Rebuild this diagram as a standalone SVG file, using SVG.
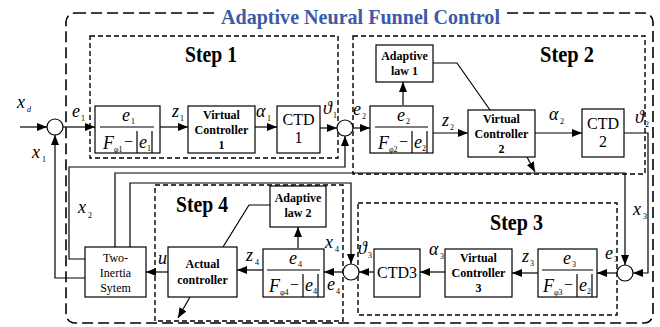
<svg xmlns="http://www.w3.org/2000/svg" width="660" height="327" viewBox="0 0 660 327">
  <style>
    .box{fill:#fff;stroke:#000;stroke-width:1.2}
    .ln{fill:none;stroke:#000;stroke-width:1.2}
    .arr{marker-end:url(#ah)}
    .outer{fill:none;stroke:#000;stroke-width:1.6;stroke-dasharray:11 5}
    .stepbox{fill:none;stroke:#000;stroke-width:1.4;stroke-dasharray:5 3}
    .sum{fill:#fff;stroke:#000;stroke-width:1.2}
    .it{font-family:"Liberation Serif","DejaVu Serif",serif;font-style:italic;font-size:18px}
    .sb{font-family:"Liberation Serif","DejaVu Serif",serif;font-size:8px}
    .bt{font-family:"Liberation Serif",serif;font-weight:bold;font-size:12px;text-anchor:middle}
    .rt{font-family:"Liberation Serif",serif;font-size:12px;text-anchor:middle}
    .ctd{font-family:"Liberation Serif",serif;font-size:16px;text-anchor:middle}
    .step{font-family:"Liberation Serif",serif;font-weight:bold;font-size:23px}
    .title{font-family:"Liberation Serif",serif;font-weight:bold;font-size:21px;fill:#3d5aa8}
    .op{font-family:"Liberation Serif",serif;font-size:16px}
  </style>
  <defs>
    <marker id="ah" viewBox="0 0 10 8" refX="10" refY="4" markerWidth="10" markerHeight="8" markerUnits="userSpaceOnUse" orient="auto">
      <path d="M0,0 L10,4 L0,8 z" fill="#000"/>
    </marker>
  </defs>

  <!-- frames -->
  <g id="frames">
    <rect class="outer" x="66" y="13" width="587" height="310" rx="9"/>
    <!-- title sits on the frame edge, with a white backing -->
    <rect x="218" y="4" width="286" height="24" fill="#fff"/>
    <text class="title" x="221" y="24" textLength="279" lengthAdjust="spacingAndGlyphs">Adaptive Neural Funnel Control</text>
    <rect class="stepbox" x="90" y="36" width="248" height="122"/>
    <text class="step" x="185" y="62" textLength="52" lengthAdjust="spacingAndGlyphs">Step 1</text>
    <rect class="stepbox" x="353" y="36" width="292" height="138"/>
    <text class="step" x="540" y="62" textLength="54" lengthAdjust="spacingAndGlyphs">Step 2</text>
    <rect class="stepbox" x="358" y="203" width="259" height="112"/>
    <text class="step" x="490" y="230" textLength="53" lengthAdjust="spacingAndGlyphs">Step 3</text>
    <rect class="stepbox" x="155" y="185" width="188" height="136"/>
    <text class="step" x="176" y="212" textLength="52" lengthAdjust="spacingAndGlyphs">Step 4</text>
  </g>

  <!-- connectors -->
  <g id="connectors">
    <line class="ln arr" x1="20" y1="127" x2="47" y2="127"/>
    <line class="ln arr" x1="63" y1="127" x2="95" y2="127"/>
    <line class="ln arr" x1="160" y1="127" x2="188" y2="127"/>
    <line class="ln arr" x1="255" y1="127" x2="277" y2="127"/>
    <line class="ln arr" x1="320" y1="128" x2="337" y2="128"/>
    <line class="ln arr" x1="353" y1="128" x2="370" y2="128"/>
    <line class="ln arr" x1="403" y1="105" x2="403" y2="82"/>
    <polyline class="ln" points="433,63 457,63 490,110"/>
    <line class="ln arr" x1="433" y1="133" x2="468" y2="133"/>
    <line class="ln arr" x1="535" y1="133" x2="582" y2="133"/>
    <polyline class="ln arr" points="624,133 648,133 648,273 633,273"/>
    <line class="ln arr" x1="527" y1="157" x2="535" y2="172"/>
    <polyline class="ln arr" points="115,247 115,173 625,173 625,265"/>
    <polyline class="ln arr" points="130,247 130,183 351,183 351,264"/>
    <polyline class="ln arr" points="85,259 69,259 69,167 345,167 345,136"/>
    <polyline class="ln arr" points="85,278 55,278 55,135"/>
    <line class="ln arr" x1="617" y1="273" x2="597" y2="273"/>
    <line class="ln arr" x1="538" y1="273" x2="512" y2="273"/>
    <line class="ln arr" x1="445" y1="272" x2="420" y2="272"/>
    <line class="ln arr" x1="374" y1="272" x2="359" y2="272"/>
    <line class="ln arr" x1="343" y1="272" x2="324" y2="272"/>
    <line class="ln arr" x1="298" y1="248" x2="298" y2="227"/>
    <polyline class="ln" points="270,205 249,205 223,247"/>
    <line class="ln arr" x1="263" y1="270" x2="237" y2="270"/>
    <line class="ln arr" x1="168" y1="272" x2="146" y2="272"/>
    <line class="ln arr" x1="190" y1="297" x2="178" y2="318"/>
  </g>

  <!-- summing junctions -->
  <g id="sum1"><circle class="sum" cx="55" cy="127" r="8"/></g>
  <g id="sum2"><circle class="sum" cx="345" cy="128" r="8"/></g>
  <g id="sum3"><circle class="sum" cx="625" cy="273" r="8"/></g>
  <g id="sum4"><circle class="sum" cx="351" cy="272" r="8"/></g>

  <!-- funnel error transforms -->
  <g id="funnel1" transform="translate(95,106)">
    <rect class="box" x="0" y="0" width="65" height="47"/>
    <text class="it" x="27" y="15">e</text><text class="sb" x="36" y="18">1</text>
    <line class="ln" x1="5" y1="21" x2="59" y2="21"/>
    <text class="it" x="8" y="43">F</text><text class="sb" x="19" y="46">φ1</text>
    <text class="op" x="29" y="41">−</text>
    <line class="ln" x1="42" y1="25" x2="42" y2="47"/>
    <text class="it" x="44" y="42">e</text><text class="sb" x="52" y="45">1</text>
    <line class="ln" x1="57" y1="25" x2="57" y2="47"/>
  </g>
  <g id="funnel2" transform="translate(370,106)">
    <rect class="box" x="0" y="0" width="63" height="47"/>
    <text class="it" x="27" y="15">e</text><text class="sb" x="36" y="18">2</text>
    <line class="ln" x1="5" y1="21" x2="58" y2="21"/>
    <text class="it" x="8" y="43">F</text><text class="sb" x="19" y="46">φ2</text>
    <text class="op" x="29" y="41">−</text>
    <line class="ln" x1="42" y1="25" x2="42" y2="47"/>
    <text class="it" x="44" y="42">e</text><text class="sb" x="52" y="45">2</text>
    <line class="ln" x1="57" y1="25" x2="57" y2="47"/>
  </g>
  <g id="funnel3" transform="translate(538,249)">
    <rect class="box" x="0" y="0" width="59" height="48"/>
    <text class="it" x="25" y="15">e</text><text class="sb" x="34" y="18">3</text>
    <line class="ln" x1="4" y1="21" x2="55" y2="21"/>
    <text class="it" x="5" y="43">F</text><text class="sb" x="16" y="46">φ3</text>
    <text class="op" x="26" y="41">−</text>
    <line class="ln" x1="39" y1="25" x2="39" y2="48"/>
    <text class="it" x="41" y="42">e</text><text class="sb" x="49" y="45">2</text>
    <line class="ln" x1="54" y1="25" x2="54" y2="48"/>
  </g>
  <g id="funnel4" transform="translate(263,249)">
    <rect class="box" x="0" y="0" width="61" height="48"/>
    <text class="it" x="26" y="15">e</text><text class="sb" x="35" y="18">4</text>
    <line class="ln" x1="4" y1="21" x2="57" y2="21"/>
    <text class="it" x="6" y="43">F</text><text class="sb" x="17" y="46">φ4</text>
    <text class="op" x="27" y="41">−</text>
    <line class="ln" x1="40" y1="25" x2="40" y2="48"/>
    <text class="it" x="42" y="42">e</text><text class="sb" x="50" y="45">4</text>
    <line class="ln" x1="55" y1="25" x2="55" y2="48"/>
  </g>

  <!-- controllers and filters -->
  <g id="vc1">
    <rect class="box" x="188" y="106" width="67" height="47"/>
    <text class="bt" x="221.5" y="119">Virtual</text>
    <text class="bt" x="221.5" y="134">Controller</text>
    <text class="bt" x="221.5" y="149">1</text>
  </g>
  <g id="ctd1">
    <rect class="box" x="277" y="106" width="43" height="47"/>
    <text class="ctd" x="298.5" y="125">CTD</text>
    <text class="ctd" x="298.5" y="143">1</text>
  </g>
  <g id="adaptive1">
    <rect class="box" x="376" y="45" width="57" height="37"/>
    <text class="bt" x="404.5" y="60">Adaptive</text>
    <text class="bt" x="404.5" y="75">law 1</text>
  </g>
  <g id="vc2">
    <rect class="box" x="468" y="110" width="67" height="47"/>
    <text class="bt" x="501.5" y="123">Virtual</text>
    <text class="bt" x="501.5" y="138">Controller</text>
    <text class="bt" x="501.5" y="153">2</text>
  </g>
  <g id="ctd2">
    <rect class="box" x="582" y="109" width="42" height="48"/>
    <text class="ctd" x="603" y="129">CTD</text>
    <text class="ctd" x="603" y="147">2</text>
  </g>
  <g id="vc3">
    <rect class="box" x="445" y="249" width="67" height="48"/>
    <text class="bt" x="478.5" y="262">Virtual</text>
    <text class="bt" x="478.5" y="277">Controller</text>
    <text class="bt" x="478.5" y="292">3</text>
  </g>
  <g id="ctd3">
    <rect class="box" x="374" y="249" width="46" height="48"/>
    <text class="ctd" x="397" y="278">CTD3</text>
  </g>
  <g id="adaptive2">
    <rect class="box" x="270" y="186" width="56" height="41"/>
    <text class="bt" x="298" y="202">Adaptive</text>
    <text class="bt" x="298" y="217">law 2</text>
  </g>
  <g id="actual">
    <rect class="box" x="168" y="247" width="69" height="50"/>
    <text class="bt" x="202.5" y="268">Actual</text>
    <text class="bt" x="202.5" y="284">controller</text>
  </g>
  <g id="plant">
    <rect class="box" x="85" y="247" width="61" height="50"/>
    <text class="rt" x="115.5" y="262">Two-</text>
    <text class="rt" x="115.5" y="277">Inertia</text>
    <text class="rt" x="115.5" y="292">Sytem</text>
  </g>

  <!-- signal labels -->
  <g id="labels">
    <text class="it" x="17" y="108">x</text><text class="sb" x="27" y="112" font-style="italic">d</text>
    <text class="it" x="32" y="158">x</text><text class="sb" x="42" y="162">1</text>
    <text class="it" x="72" y="117">e</text><text class="sb" x="81" y="121">1</text>
    <text class="it" x="172" y="117">z</text><text class="sb" x="180" y="121">1</text>
    <text class="it" x="256" y="117">α</text><text class="sb" x="267" y="121">1</text>
    <text class="it" x="323" y="114">ϑ</text><text class="sb" x="333" y="118">1</text>
    <text class="it" x="353" y="115">e</text><text class="sb" x="362" y="119">2</text>
    <text class="it" x="442" y="126">z</text><text class="sb" x="450" y="130">2</text>
    <text class="it" x="549" y="120">α</text><text class="sb" x="560" y="124">2</text>
    <text class="it" x="635" y="123">ϑ</text><text class="sb" x="645" y="127">2</text>
    <text class="it" x="633" y="215">x</text><text class="sb" x="643" y="219">3</text>
    <text class="it" x="605" y="259">e</text><text class="sb" x="614" y="262">3</text>
    <text class="it" x="522" y="262">z</text><text class="sb" x="530" y="266">3</text>
    <text class="it" x="429" y="255">α</text><text class="sb" x="440" y="259">3</text>
    <text class="it" x="358" y="254">ϑ</text><text class="sb" x="368" y="258">3</text>
    <text class="it" x="325" y="248">x</text><text class="sb" x="335" y="252">4</text>
    <text class="it" x="327" y="290">e</text><text class="sb" x="336" y="294">4</text>
    <text class="it" x="246" y="261">z</text><text class="sb" x="255" y="265">4</text>
    <text class="it" x="158" y="264">u</text>
    <text class="it" x="78" y="213">x</text><text class="sb" x="88" y="218">2</text>
  </g>
</svg>
